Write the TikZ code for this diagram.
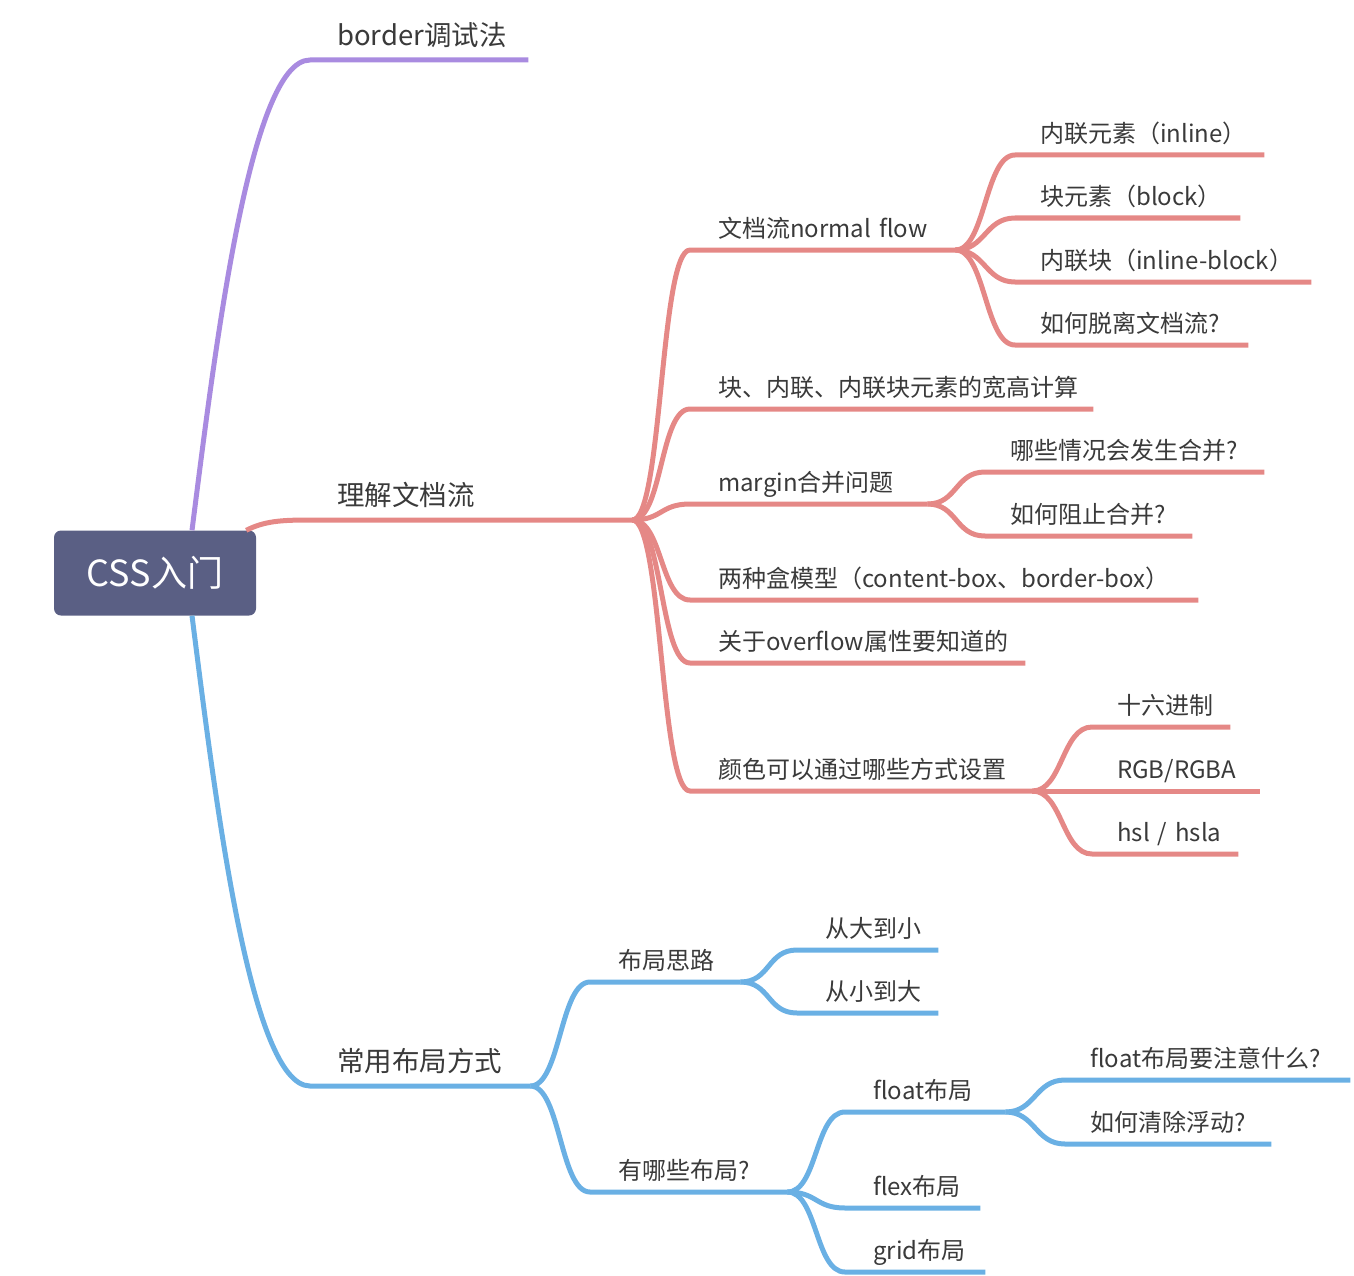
\documentclass[tikz,border=0pt]{standalone}
\usepackage{fontspec}
\setmainfont{Noto Sans CJK SC}
\usepackage{tikz}
\definecolor{lilac}{HTML}{A98BE0}
\definecolor{rose}{HTML}{E58886}
\definecolor{sky}{HTML}{6AB0E4}
\definecolor{slate}{HTML}{5A5F84}
\definecolor{ink}{HTML}{3A3A3A}
\tikzset{root node/.style={rectangle, rounded corners=7pt, fill=slate, text=white,
    font=\fontsize{36}{42}\selectfont, minimum width=202pt, minimum height=85pt, inner sep=0pt}}
\tikzset{topic node/.style={anchor=south west, inner xsep=0pt, inner ysep=12pt, text depth=0pt,
    align=left, text=ink, font=\fontsize{24}{28}\selectfont, text width=#1}}
\tikzset{main node/.style={topic node=#1, inner ysep=14pt, font=\fontsize{27.5}{32}\selectfont,
    execute at begin node=\hspace*{27pt}}}
\tikzset{sub node/.style={topic node=#1, execute at begin node=\hspace*{28pt}}}
\tikzset{leaf node/.style={topic node=#1, execute at begin node=\hspace*{25pt}}}
\tikzset{lilac edge/.style={draw=lilac, line width=5pt}}
\tikzset{rose edge/.style={draw=rose, line width=5pt}}
\tikzset{sky edge/.style={draw=sky, line width=5pt}}
\tikzset{branch/.style={out=0, in=180, out distance=30pt, in distance=30pt}}

\begin{document}
\begin{tikzpicture}[x=1pt, y=-1pt]
          \useasboundingbox (0,0) rectangle (1354,1276);
          \node [root node] (css) at (155,573) {CSS入门};
          % first level
          \node [main node=218pt] (border) at (310,  60) {border调试法};
          \node [main node=322pt] (flow)   at (310, 520) {理解文档流};
          \node [main node=220pt] (layout) at (310,1086) {常用布局方式};
          % document flow
          \node [sub node=265pt]  (nf)       at (690, 250) {文档流normal flow};
          \node [sub node=403pt]  (calc)     at (690, 409) {块、内联、内联块元素的宽高计算};
          \node [sub node=237pt]  (margin)   at (690, 504) {margin合并问题};
          \node [sub node=508pt]  (box)      at (690, 600) {两种盒模型（content-box、border-box）};
          \node [sub node=335pt]  (overflow) at (690, 663) {关于overflow属性要知道的};
          \node [sub node=342pt]  (color)    at (690, 791) {颜色可以通过哪些方式设置};
          \node [leaf node=249pt] (inline)   at (1015,155) {内联元素（inline）};
          \node [leaf node=225pt] (block)    at (1015,218) {块元素（block）};
          \node [leaf node=296pt] (iblock)   at (1015,282) {内联块（inline-block）};
          \node [leaf node=233pt] (escape)   at (1015,345) {如何脱离文档流?};
          \node [leaf node=279pt] (merge)    at (985, 472) {哪些情况会发生合并?};
          \node [leaf node=207pt] (stop)     at (985, 536) {如何阻止合并?};
          \node [leaf node=138pt] (hex)      at (1092,727) {十六进制};
          \node [leaf node=168pt] (rgb)      at (1092,791) {RGB/RGBA};
          \node [leaf node=146pt] (hsl)      at (1092,854) {hsl / hsla};
          % layouts
          \node [sub node=150pt]  (idea)   at (590, 982)  {布局思路};
          \node [sub node=197pt]  (which)  at (590, 1192) {有哪些布局?};
          \node [sub node=141pt]  (big)    at (797, 950)  {从大到小};
          \node [sub node=141pt]  (small)  at (797, 1013) {从小到大};
          \node [sub node=160pt]  (float)  at (845, 1112) {float布局};
          \node [sub node=135pt]  (flex)   at (845, 1208) {flex布局};
          \node [sub node=140pt]  (grid)   at (845, 1272) {grid布局};
          \node [leaf node=285pt] (fnote)  at (1065,1080) {float布局要注意什么?};
          \node [leaf node=206pt] (clear)  at (1065,1144) {如何清除浮动?};

          \draw [lilac edge] ([xshift=37pt]css.north) .. controls +(23,-181) and +(-60,0) .. (border.south west) -- (border.south east);
          \draw [rose edge]  ([xshift=-10pt]css.north east) .. controls +(18,-9) and +(-30,0) .. (flow.south west) -- (flow.south east);
          \draw [sky edge]   ([xshift=37pt]css.south) .. controls +(23,181) and +(-60,0) .. (layout.south west) -- (layout.south east);

          \draw [rose edge] (flow.south east)   to[branch] (nf.south west)       -- (nf.south east);
          \draw [rose edge] (flow.south east)   to[branch] (calc.south west)     -- (calc.south east);
          \draw [rose edge] (flow.south east)   to[branch] (margin.south west)   -- (margin.south east);
          \draw [rose edge] (flow.south east)   to[branch] (box.south west)      -- (box.south east);
          \draw [rose edge] (flow.south east)   to[branch] (overflow.south west) -- (overflow.south east);
          \draw [rose edge] (flow.south east)   to[branch] (color.south west)    -- (color.south east);
          \draw [rose edge] (nf.south east)     to[branch] (inline.south west)   -- (inline.south east);
          \draw [rose edge] (nf.south east)     to[branch] (block.south west)    -- (block.south east);
          \draw [rose edge] (nf.south east)     to[branch] (iblock.south west)   -- (iblock.south east);
          \draw [rose edge] (nf.south east)     to[branch] (escape.south west)   -- (escape.south east);
          \draw [rose edge] (margin.south east) to[branch] (merge.south west)    -- (merge.south east);
          \draw [rose edge] (margin.south east) to[branch] (stop.south west)     -- (stop.south east);
          \draw [rose edge] (color.south east)  to[branch] (hex.south west)      -- (hex.south east);
          \draw [rose edge] (color.south east)  to[branch] (rgb.south west)      -- (rgb.south east);
          \draw [rose edge] (color.south east)  to[branch] (hsl.south west)      -- (hsl.south east);

          \draw [sky edge] (layout.south east) to[branch] (idea.south west)  -- (idea.south east);
          \draw [sky edge] (layout.south east) to[branch] (which.south west) -- (which.south east);
          \draw [sky edge] (idea.south east)   to[branch] (big.south west)   -- (big.south east);
          \draw [sky edge] (idea.south east)   to[branch] (small.south west) -- (small.south east);
          \draw [sky edge] (which.south east)  to[branch] (float.south west) -- (float.south east);
          \draw [sky edge] (which.south east)  to[branch] (flex.south west)  -- (flex.south east);
          \draw [sky edge] (which.south east)  to[branch] (grid.south west)  -- (grid.south east);
          \draw [sky edge] (float.south east)  to[branch] (fnote.south west) -- (fnote.south east);
          \draw [sky edge] (float.south east)  to[branch] (clear.south west) -- (clear.south east);
        \end{tikzpicture}
\end{document}
